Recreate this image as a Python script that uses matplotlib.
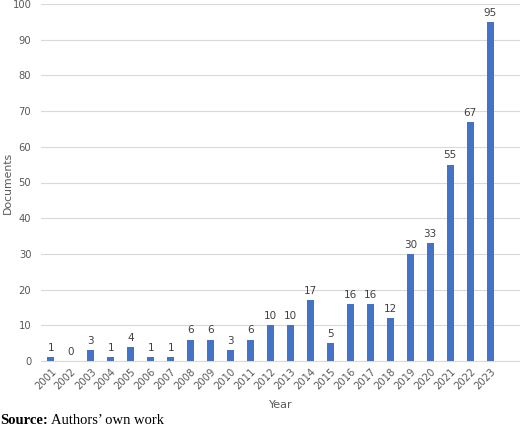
import matplotlib.pyplot as plt

YEARS = [str(y) for y in range(2001, 2024)]
DOCUMENTS = [1, 0, 3, 1, 4, 1, 1, 6, 6, 3, 6, 10, 10, 17, 5, 16, 16, 12, 30, 33, 55, 67, 95]
Y_TICKS = list(range(0, 101, 10))

BAR_COLOR = "#4472C4"
TEXT_COLOR = "#595959"
GRID_COLOR = "#D9D9D9"


def main() -> None:
    plt.rcParams["font.family"] = ["DejaVu Sans"]
    fig = plt.figure(figsize=(5.2, 4.37), dpi=100)
    ax = fig.add_axes([41 / 520, 76 / 437, 1 - 41 / 520, (361 - 4) / 437])

    positions = list(range(len(YEARS)))
    ax.bar(positions, DOCUMENTS, width=0.35, color=BAR_COLOR, zorder=3)
    for pos, val in zip(positions, DOCUMENTS):
        ax.annotate(
            str(val),
            (pos, val),
            xytext=(0, 3),
            textcoords="offset points",
            ha="center",
            va="bottom",
            fontsize=7.5,
            color="#404040",
        )

    ax.set_xlim(-0.5, 23.5)
    ax.set_ylim(0, 100)
    ax.set_yticks(Y_TICKS)
    ax.set_xticks(positions)
    ax.set_xticklabels(YEARS, rotation=45, ha="right", rotation_mode="anchor")
    ax.tick_params(axis="both", length=0, labelsize=7.2, labelcolor=TEXT_COLOR)
    ax.tick_params(axis="x", pad=4)
    ax.tick_params(axis="y", pad=7)
    ax.grid(axis="y", color=GRID_COLOR, linewidth=0.8, zorder=0)

    for side in ("top", "right", "left"):
        ax.spines[side].set_visible(False)
    ax.spines["bottom"].set_color(GRID_COLOR)
    ax.spines["bottom"].set_linewidth(0.8)

    ax.set_xlabel("Year", fontsize=8, color=TEXT_COLOR, labelpad=6)
    ax.set_ylabel("Documents", fontsize=7.8, color=TEXT_COLOR)
    ax.yaxis.set_label_coords(-0.058, 0.5)

    ## "Source:" in bold, then the rest in regular weight right after it
    src_y = (437 - 421) / 437
    bold = fig.text(0.0, src_y, "Source:", fontsize=10.5, family="Liberation Serif",
                    weight="bold", va="center", ha="left")
    fig.canvas.draw()
    bbox = bold.get_window_extent()
    fig.text((bbox.x1 + 3) / 520, src_y, "Authors’ own work", fontsize=10.5,
             family="Liberation Serif", va="center", ha="left")
    fig.savefig("out.png", dpi=100)


if __name__ == "__main__":
    main()
